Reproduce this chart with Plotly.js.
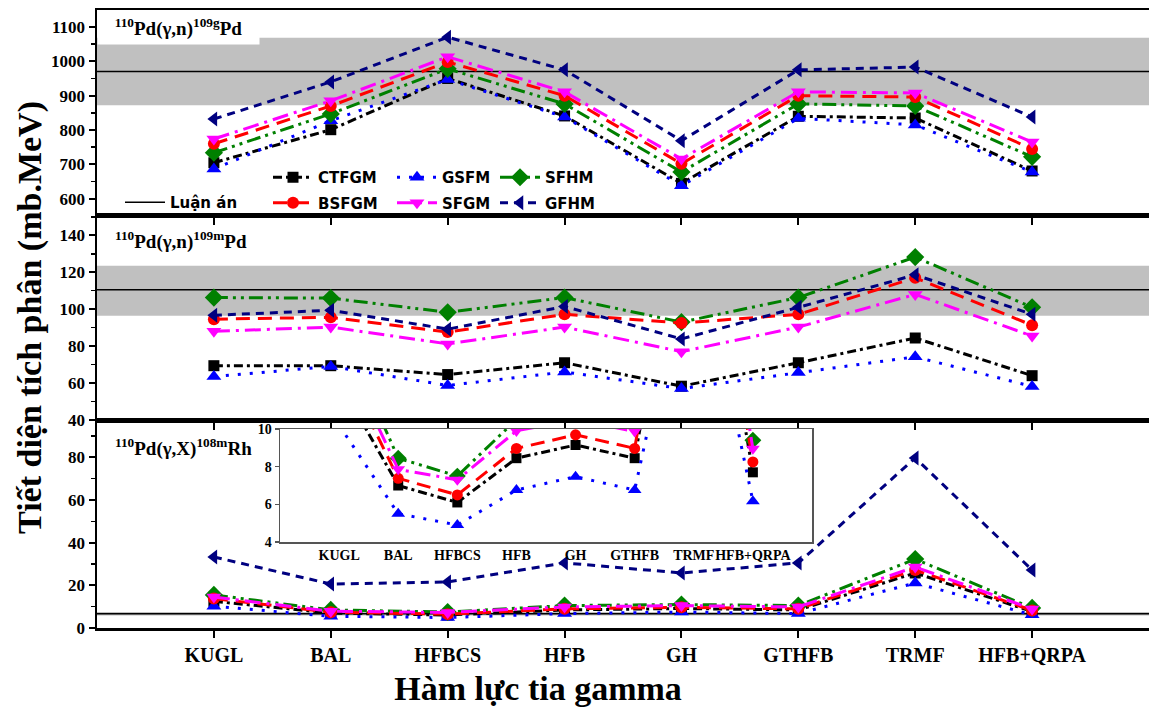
<!DOCTYPE html>
<html><head><meta charset="utf-8">
<script src="https://cdn.plot.ly/plotly-3.0.1.min.js"></script>
<style>html,body{margin:0;padding:0;background:#fff}#chart{width:1149px;height:707px}</style>
</head><body><div id="chart"></div>
<script>
const categories = ['KUGL','BAL','HFBCS','HFB','GH','GTHFB','TRMF','HFB+QRPA'];
const modelNames = ['CTFGM','GSFM','SFHM','BSFGM','SFGM','GFHM'];

// Panel 1: 110Pd(γ,n)109gPd
const g109_CTFGM = [705, 801, 950, 841, 645, 840, 835, 681];
const g109_GSFM  = [687, 827, 947, 838, 638, 834, 815, 678];
const g109_SFHM  = [734, 847, 978, 876, 678, 876, 870, 722];
const g109_BSFGM = [760, 870, 998, 900, 702, 900, 896, 745];
const g109_SFGM  = [774, 885, 1013, 911, 716, 911, 908, 765];
const g109_GFHM  = [832, 940, 1070, 975, 769, 975, 983, 838];

// Panel 2: 110Pd(γ,n)109mPd
const m109_CTFGM = [69.4, 69.4, 64.6, 71.0, 58.3, 71.0, 84.4, 64.0];
const m109_GSFM  = [63.5, 69.0, 58.7, 66.0, 57.0, 65.7, 74.2, 58.2];
const m109_SFHM  = [106.3, 106.0, 98.3, 106.3, 93.0, 106.3, 128.2, 101.0];
const m109_BSFGM = [94.6, 95.6, 87.6, 97.2, 92.5, 97.2, 117.0, 91.3];
const m109_SFGM  = [88.0, 90.3, 81.2, 90.3, 77.0, 90.3, 108.0, 85.5];
const m109_GFHM  = [96.7, 99.4, 89.2, 101.5, 83.9, 101.0, 118.6, 97.2];

// Panel 3: 110Pd(γ,X)108mRh
const rh108_CTFGM = [12.5, 7.0, 6.1, 8.45, 9.15, 8.45, 25.8, 7.7];
const rh108_GSFM  = [10.2, 5.5, 4.9, 6.76, 7.47, 6.76, 21.1, 6.17];
const rh108_SFHM  = [15.5, 8.45, 7.5, 10.5, 11.0, 10.5, 32.3, 9.4];
const rh108_BSFGM = [13.8, 7.38, 6.5, 8.97, 9.69, 8.97, 27.2, 8.25];
const rh108_SFGM  = [14.5, 7.86, 7.3, 9.9, 10.5, 9.87, 28.6, 8.95];
const rh108_GFHM  = [33.3, 20.6, 21.6, 30.5, 25.8, 30.5, 79.7, 27.2];

// Luận án (thesis value and uncertainty band) per panel
const thesisValue = [970, 110.5, 6.7];
const thesisLow   = [872, 96.5, 5.9];
const thesisHigh  = [1068, 123.5, 7.5];

const panelLabels = [
  '<sup>110</sup>Pd(γ,n)<sup>109g</sup>Pd',
  '<sup>110</sup>Pd(γ,n)<sup>109m</sup>Pd',
  '<sup>110</sup>Pd(γ,X)<sup>108m</sup>Rh'
];
const xTitle = 'Hàm lực tia gamma';
const yTitle = 'Tiết diện tích phân (mb.MeV)';

// ---------- styling / layout ----------
const W = 1149, H = 707, ML = 97, MR = 0, MT = 10, MB = 79;
const PW = W - ML - MR, PH = H - MT - MB;
const px2x = p => (p - ML) / PW;
const px2y = p => (H - MB - p) / PH;

const styles = {
  CTFGM: {color:'#000000', dash:'9px,4px,3px,4px', symbol:'square', size:11, legend:'legend'},
  GSFM:  {color:'#0000ff', dash:'3px,9px', symbol:'triangle-up', size:13, legend:'legend2'},
  SFHM:  {color:'#008000', dash:'14px,5px,3px,5px,3px,5px', symbol:'diamond', size:14, legend:'legend3'},
  BSFGM: {color:'#ff0000', dash:'14px,8px', symbol:'circle', size:12, legend:'legend'},
  SFGM:  {color:'#ff00ff', dash:'16px,6px,3px,6px', symbol:'triangle-down', size:13, legend:'legend2'},
  GFHM:  {color:'#000080', dash:'8px,6px', symbol:'triangle-left', size:13, legend:'legend3'}
};

const panels = [
  {xa:'x',  ya:'y',  data:{CTFGM:g109_CTFGM, GSFM:g109_GSFM, SFHM:g109_SFHM, BSFGM:g109_BSFGM, SFGM:g109_SFGM, GFHM:g109_GFHM}, legend:true},
  {xa:'x2', ya:'y2', data:{CTFGM:m109_CTFGM, GSFM:m109_GSFM, SFHM:m109_SFHM, BSFGM:m109_BSFGM, SFGM:m109_SFGM, GFHM:m109_GFHM}},
  {xa:'x3', ya:'y3', data:{CTFGM:rh108_CTFGM, GSFM:rh108_GSFM, SFHM:rh108_SFHM, BSFGM:rh108_BSFGM, SFGM:rh108_SFGM, GFHM:rh108_GFHM}},
  {xa:'x4', ya:'y4', data:{CTFGM:rh108_CTFGM, GSFM:rh108_GSFM, SFHM:rh108_SFHM, BSFGM:rh108_BSFGM, SFGM:rh108_SFGM, GFHM:rh108_GFHM}, inset:true}
];

const traces = [];
panels.forEach(p => {
  modelNames.forEach(m => {
    const s = styles[m];
    traces.push({
      type:'scatter', mode:'lines+markers', name:m, x:categories, y:p.data[m],
      xaxis:p.xa, yaxis:p.ya,
      line:{color:s.color, width:3, dash:s.dash},
      marker:{symbol:s.symbol, size:p.inset ? s.size-1 : s.size, color:s.color},
      showlegend:!!p.legend, legend:s.legend, legendgroup:m
    });
  });
});

const serifBold = (size) => ({family:'Liberation Serif, Times New Roman, serif', size:size, color:'#000', weight:'bold'});

const shapes = [];
const bandRefs = [['x','y'],['x2','y2'],['x3','y3'],['x4','y4']];
bandRefs.forEach((r, i) => {
  const k = Math.min(i, 2);
  shapes.push({type:'rect', xref:r[0]+' domain', yref:r[1], x0:0, x1:1, y0:thesisLow[k], y1:thesisHigh[k],
    fillcolor:'#c0c0c0', line:{width:0}, layer:'below'});
  shapes.push({type:'line', xref:r[0]+' domain', yref:r[1], x0:0, x1:1, y0:thesisValue[k], y1:thesisValue[k],
    line:{color:'#000', width:1.5}, layer:'below',
    showlegend:i===0, name:'Luận án', legend:'legend4'});
});

function xAxis(anchor, showLabels) {
  return {anchor:anchor, domain:[0,1], type:'category', range:[-1,8],
    showline:true, linewidth:2.5, linecolor:'#000', mirror:true,
    ticks:'outside', ticklen:7, tickwidth:2, tickcolor:'#000', tickangle:0,
    showticklabels:showLabels, tickfont:serifBold(20), showgrid:false, zeroline:false, fixedrange:true};
}
function yAxis(anchor, domain, range, dtick, minorDtick) {
  return {anchor:anchor, domain:domain, range:range, dtick:dtick, tick0:0,
    showline:true, linewidth:2.5, linecolor:'#000', mirror:true,
    ticks:'outside', ticklen:6, tickwidth:2, tickcolor:'#000',
    minor:{ticks:'outside', ticklen:4, tickwidth:1.5, tickcolor:'#000', dtick:minorDtick, showgrid:false},
    tickfont:serifBold(17), showgrid:false, zeroline:false, fixedrange:true};
}

const d1 = [px2y(215), 1], d2 = [px2y(420), px2y(215)], d3 = [0, px2y(420)];

const legendCfg = (xpx, ypx) => ({
  x:px2x(xpx), y:px2y(ypx), xanchor:'left', yanchor:'top', orientation:'v',
  bgcolor:'rgba(0,0,0,0)', borderwidth:0, itemwidth:40, tracegroupgap:3,
  font:{family:'DejaVu Sans, Verdana, sans-serif', size:15, weight:'bold', color:'#000'}
});

const nb = '\u00A0';
const layout = {
  width:W, height:H, margin:{l:ML, r:MR, t:MT, b:MB},
  paper_bgcolor:'#fff', plot_bgcolor:'#fff',
  font:{family:'Liberation Serif, serif', color:'#000'},
  showlegend:true,
  xaxis: xAxis('y', false),
  xaxis2: xAxis('y2', false),
  xaxis3: Object.assign(xAxis('y3', true), {title:{text:xTitle + nb.repeat(20) + '\u200B', font:serifBold(34), standoff:14}}),
  yaxis: yAxis('x', d1, [553, 1149], 100, 50),
  yaxis2: Object.assign(yAxis('x2', d2, [40, 151], 20, 10), {title:{text:yTitle, font:serifBold(34), standoff:8}}),
  yaxis3: yAxis('x3', d3, [0, 97.5], 20, 10),
  xaxis4: {anchor:'y4', domain:[px2x(280), px2x(812)], type:'category', range:[-1,8],
    showline:true, linewidth:1.5, linecolor:'#555', mirror:true, ticks:'', tickangle:0,
    tickfont:serifBold(14), showgrid:false, zeroline:false, fixedrange:true},
  yaxis4: {anchor:'x4', domain:[px2y(542), px2y(429)], range:[4,10], dtick:2,
    showline:true, linewidth:1.5, linecolor:'#555', mirror:true,
    ticks:'outside', ticklen:4, tickwidth:1.5, tickcolor:'#555',
    tickfont:serifBold(14), showgrid:false, zeroline:false, fixedrange:true},
  legend: legendCfg(268, 161),
  legend2: legendCfg(392, 161),
  legend3: legendCfg(495, 161),
  legend4: legendCfg(120, 186),
  shapes: shapes,
  annotations: [
    {xref:'paper', yref:'paper', x:0, y:1, xanchor:'left', yanchor:'top', width:155, height:27, borderpad:3,
      bgcolor:'#fff', showarrow:false, text:panelLabels[0], font:serifBold(19)},
    {xref:'paper', yref:'paper', x:px2x(113), y:px2y(240), xanchor:'left', yanchor:'middle',
      showarrow:false, text:panelLabels[1], font:serifBold(19)},
    {xref:'paper', yref:'paper', x:px2x(113), y:px2y(447), xanchor:'left', yanchor:'middle',
      showarrow:false, text:panelLabels[2], font:serifBold(19)}
  ]
};

Plotly.newPlot('chart', traces, layout, {displayModeBar:false, staticPlot:true});
</script>
</body></html>
